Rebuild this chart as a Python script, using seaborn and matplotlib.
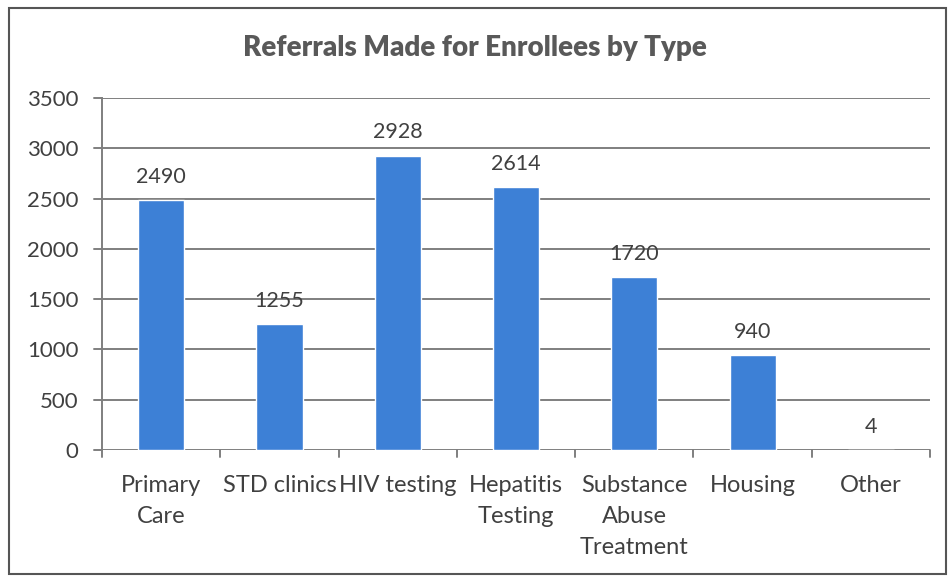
import matplotlib.pyplot as plt
import pandas as pd
import seaborn as sns

# data
categories = [
    "Primary\nCare",
    "STD clinics",
    "HIV testing",
    "Hepatitis\nTesting",
    "Substance\nAbuse\nTreatment",
    "Housing",
    "Other",
]
referrals = [2490, 1255, 2928, 2614, 1720, 940, 4]
y_ticks = [0, 500, 1000, 1500, 2000, 2500, 3000, 3500]

df = pd.DataFrame({"type": categories, "count": referrals})

sns.set_style("white")
plt.rcParams["font.family"] = ["Lato", "DejaVu Sans"]

fig = plt.figure(figsize=(9.49, 5.81), dpi=100)
ax = fig.add_axes([0.1075, 0.2255, 0.8725, 0.6058])

sns.barplot(data=df, x="type", y="count", color="#3d80d6", saturation=1,
            width=0.39, ax=ax, zorder=3)

ax.set_ylim(0, 3500)
ax.set_xlim(-0.5, len(categories) - 0.5)
ax.set_yticks(y_ticks)
ax.set_yticklabels([str(v) for v in y_ticks], fontsize=16, color="#404040")
ax.set_xticks(range(len(categories)))
ax.set_xticklabels(categories, fontsize=17, color="#404040", linespacing=1.6)
ax.tick_params(axis="x", length=0, pad=18)
ax.tick_params(axis="y", length=0, pad=17)

# gridlines with Excel-style ticks sticking out on the left
for v in y_ticks:
    ax.axhline(v, color="#7f7f7f", lw=1.4, zorder=1)
    ax.plot([-0.5 - 0.07, -0.5], [v, v], color="#7f7f7f", lw=1.4, clip_on=False)
# category boundary ticks under the x axis
for i in range(len(categories) + 1):
    ax.plot([i - 0.5, i - 0.5], [0, -70], color="#7f7f7f", lw=1.4, clip_on=False)

for s in ["top", "right", "bottom"]:
    ax.spines[s].set_visible(False)
ax.spines["left"].set_color("#7f7f7f")
ax.spines["left"].set_linewidth(1.4)

ax.set_xlabel("")
ax.set_ylabel("")

for i, v in enumerate(referrals):
    ax.text(i, v + 130, str(v), ha="center", va="bottom", fontsize=15.5, color="#404040")

fig.text(0.5, 0.918, "Referrals Made for Enrollees by Type", ha="center", va="center",
         fontsize=20, fontweight="heavy", color="#595959")

# outer chart frame
frame = plt.Rectangle((0.009, 0.012), 0.988, 0.975, transform=fig.transFigure,
                      fill=False, edgecolor="#555555", lw=1.5)
fig.patches.append(frame)

fig.savefig("out.png", dpi=100)
